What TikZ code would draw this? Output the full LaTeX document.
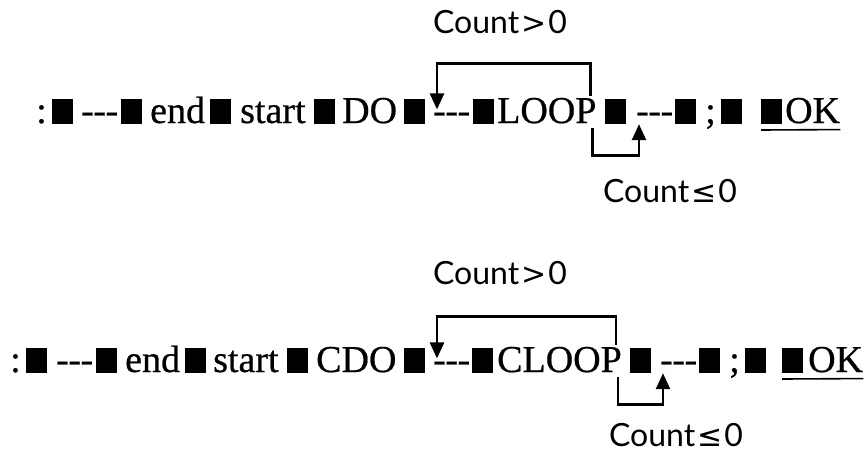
\documentclass[tikz,border=0pt]{standalone}
\usepackage{fontspec}
\usetikzlibrary{arrows.meta}
\newfontfamily\mainf[FakeBold=0.6]{Liberation Serif}
\newfontfamily\labf{Lato}
\newfontfamily\symf{DejaVu Sans}
\tikzset{
  tok/.style={anchor=base west, inner sep=0pt, font=\mainf\fontsize{38}{44}\selectfont},
  blk/.style={anchor=south west, inner sep=0pt, fill=black, minimum width=21pt, minimum height=25pt},
  lab/.style={inner sep=0pt, font=\labf\fontsize{32}{36}\selectfont},
  arr/.style={line width=2.5pt, -{Triangle[length=16pt,width=14pt]}},
}
\newcommand{\dsh}{-\kern-0.5pt-\kern-0.5pt-}
\newcommand{\gtr}{Count\kern2pt{\symf\fontsize{30}{36}\selectfont >}\kern2pt0}
\newcommand{\leqq}{Count\kern2pt{\symf\fontsize{30}{36}\selectfont ≤}\kern2pt0}
\begin{document}
\begin{tikzpicture}[x=1pt,y=-1pt]
\useasboundingbox (0,0) rectangle (868,456);
% ---------- line 1 ----------
\node[tok] (a0) at (36,123) {:};
\node[blk] (a1) at (52,124) {};
\node[tok] (a2) at (81,123) {\dsh};
\node[blk] (a3) at (121,124) {};
\node[tok] (a4) at (150,123) {end};
\node[blk] (a5) at (210,124) {};
\node[tok] (a6) at (240,123) {start};
\node[blk] (a7) at (314,124) {};
\node[tok] (a8) at (342,123) {DO};
\node[blk] (a9) at (404,124) {};
\node[tok] (a10) at (433,123) {\dsh};
\node[blk] (a11) at (473,124) {};
\node[tok] (a12) at (497,123) {LOOP};
\node[blk] (a13) at (605,124) {};
\node[tok] (a14) at (636,123) {\dsh};
\node[blk] (a15) at (675,124) {};
\node[tok] (a16) at (705,123) {;};
\node[blk] (a17) at (721,124) {};
\node[blk] (a18) at (761,124) {};
\node[tok] (a19) at (785,123) {OK};
\draw[line width=1.6pt] ([yshift=-6pt]a18.south west) -- ([yshift=-6pt]a19.south east);
\node[lab] (c1) at (500,22) {\gtr};
\node[lab] (c2) at (670,191) {\leqq};
\draw[arr] ([xshift=-6pt,yshift=2pt]a12.north east) -- ++(0,-32) -| ([xshift=4pt,yshift=3pt]a10.north west);
\draw[arr] ([xshift=-4pt,yshift=-4pt]a12.south east) -- ++(0,28) -| ([xshift=3pt,yshift=-1pt]a14.south west);
% ---------- line 2 ----------
\node[tok] (b0) at (10,372) {:};
\node[blk] (b1) at (26,373) {};
\node[tok] (b2) at (56,372) {\dsh};
\node[blk] (b3) at (96,373) {};
\node[tok] (b4) at (125,372) {end};
\node[blk] (b5) at (185,373) {};
\node[tok] (b6) at (213,372) {start};
\node[blk] (b7) at (287,373) {};
\node[tok] (b8) at (316,372) {CDO};
\node[blk] (b9) at (404,373) {};
\node[tok] (b10) at (433,372) {\dsh};
\node[blk] (b11) at (472,373) {};
\node[tok] (b12) at (497,372) {CLOOP};
\node[blk] (b13) at (630,373) {};
\node[tok] (b14) at (660,372) {\dsh};
\node[blk] (b15) at (699,373) {};
\node[tok] (b16) at (729,372) {;};
\node[blk] (b17) at (745,373) {};
\node[blk] (b18) at (782,373) {};
\node[tok] (b19) at (808,372) {OK};
\draw[line width=1.6pt] ([yshift=-6pt]b18.south west) -- ([yshift=-6pt]b19.south east);
\node[lab] (c3) at (500,273) {\gtr};
\node[lab] (c4) at (676,435) {\leqq};
\draw[arr] ([xshift=-6pt,yshift=2pt]b12.north east) -- ++(0,-28) -| ([xshift=4pt,yshift=3pt]b10.north west);
\draw[arr] ([xshift=-4pt,yshift=-4pt]b12.south east) -- ++(0,28) -| ([xshift=3pt,yshift=-1pt]b14.south west);
\end{tikzpicture}
\end{document}
